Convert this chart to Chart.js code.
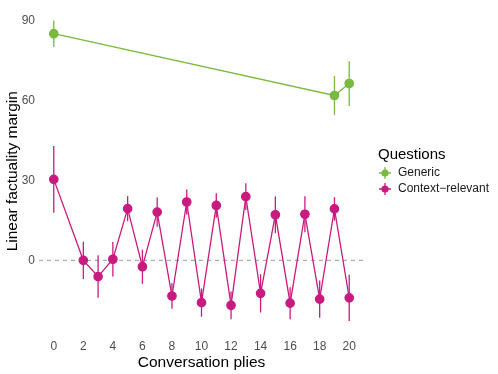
<!DOCTYPE html>
<html>
<head>
<meta charset="utf-8">
<script src="https://cdn.jsdelivr.net/npm/chart.js@4"></script>
<style>
  html, body { margin: 0; padding: 0; background: #fff; }
  #wrap { width: 498px; height: 374px; position: relative; }
</style>
</head>
<body>
<div id="wrap"><canvas id="c"></canvas></div>
<script>
// data
const genericX = [0, 19, 20];
const genericY = [85.1, 61.9, 66.4];
const genericErr = [5, 7.3, 8.4];

const contextX = [0, 2, 3, 4, 5, 6, 7, 8, 9, 10, 11, 12, 13, 14, 15, 16, 17, 18, 19, 20];
const contextY = [30.4, 0, -6.1, 0.4, 19.4, -2.4, 18.1, -13.4, 21.9, -15.9, 20.6, -16.9, 23.9, -12.4, 17.1, -16.1, 17.3, -14.6, 19.3, -14.1];
const contextErr = [12.5, 7, 8, 6.5, 4.7, 6.4, 5.5, 4.8, 4.7, 5.3, 4.6, 5.2, 5, 7.2, 6.9, 6, 6.8, 7, 4.4, 8.7];

const xTicks = [0, 2, 4, 6, 8, 10, 12, 14, 16, 18, 20];
const yTicks = [0, 30, 60, 90];

const green = '#7ab93f';
const magenta = '#c81b7f';
const fontFam = '"Liberation Sans", Arial, sans-serif';

function pts(xs, ys) {
  return xs.map((x, i) => ({ x: x, y: ys[i] }));
}

// zero line + error bars + legend
const extras = {
  id: 'extras',
  beforeDatasetsDraw(chart) {
    const ctx = chart.ctx;
    const xs = chart.scales.x, ys = chart.scales.y;
    const area = chart.chartArea;
    ctx.save();
    ctx.strokeStyle = '#9a9a9a';
    ctx.lineWidth = 1;
    ctx.setLineDash([4, 4]);
    ctx.beginPath();
    const y0 = ys.getPixelForValue(0);
    ctx.moveTo(area.left, y0);
    ctx.lineTo(area.right, y0);
    ctx.stroke();
    ctx.setLineDash([]);

    const bars = [[genericX, genericY, genericErr, green], [contextX, contextY, contextErr, magenta]];
    bars.forEach(function(b) {
      ctx.strokeStyle = b[3];
      ctx.lineWidth = 1.3;
      b[0].forEach(function(x, i) {
        const px = xs.getPixelForValue(x);
        ctx.beginPath();
        ctx.moveTo(px, ys.getPixelForValue(b[1][i] + b[2][i]));
        ctx.lineTo(px, ys.getPixelForValue(b[1][i] - b[2][i]));
        ctx.stroke();
      });
    });
    ctx.restore();
  },
  afterDraw(chart) {
    const ctx = chart.ctx;
    ctx.save();
    ctx.fillStyle = '#000';
    ctx.font = '15px ' + fontFam;
    ctx.textBaseline = 'alphabetic';
    ctx.fillText('Questions', 378, 159);
    const items = [['Generic', green, 173], ['Context\u2212relevant', magenta, 189]];
    ctx.font = '12px ' + fontFam;
    items.forEach(function(it) {
      ctx.strokeStyle = it[1];
      ctx.fillStyle = it[1];
      ctx.lineWidth = 1.3;
      ctx.beginPath();
      ctx.moveTo(385, it[2] - 6);
      ctx.lineTo(385, it[2] + 6);
      ctx.moveTo(379, it[2]);
      ctx.lineTo(391, it[2]);
      ctx.stroke();
      ctx.beginPath();
      ctx.arc(385, it[2], 3.6, 0, Math.PI * 2);
      ctx.fill();
      ctx.fillStyle = '#1a1a1a';
      ctx.textBaseline = 'middle';
      ctx.fillText(it[0], 398, it[2]);
    });
    ctx.restore();
  }
};

new Chart(document.getElementById('c'), {
  type: 'scatter',
  data: {
    datasets: [
      {
        label: 'Generic',
        data: pts(genericX, genericY),
        showLine: true,
        borderColor: green,
        backgroundColor: green,
        borderWidth: 1.3,
        pointRadius: 4.2,
        pointHoverRadius: 4.2
      },
      {
        label: 'Context-relevant',
        data: pts(contextX, contextY),
        showLine: true,
        borderColor: magenta,
        backgroundColor: magenta,
        borderWidth: 1.3,
        pointRadius: 4.2,
        pointHoverRadius: 4.2
      }
    ]
  },
  options: {
    responsive: true,
    maintainAspectRatio: false,
    animation: false,
    layout: { padding: { top: 5, right: 134, left: 0, bottom: 0 } },
    plugins: {
      legend: { display: false },
      tooltip: { enabled: false }
    },
    scales: {
      x: {
        type: 'linear',
        min: -1,
        max: 21,
        afterBuildTicks: function(scale) {
          scale.ticks = xTicks.map(v => ({ value: v }));
        },
        afterFit: function(scale) {
          scale.height = 37;
          scale.paddingLeft = 0;
          scale.paddingRight = 0;
        },
        grid: { display: false, drawTicks: false },
        border: { display: false },
        ticks: {
          color: '#4d4d4d',
          font: { family: fontFam, size: 12 },
          padding: 2
        },
        title: {
          display: true,
          text: 'Conversation plies',
          color: '#000',
          font: { family: fontFam, size: 15.5 },
          padding: { top: 0, bottom: 2 }
        }
      },
      y: {
        type: 'linear',
        min: -28.8,
        max: 95.7,
        afterBuildTicks: function(scale) {
          scale.ticks = yTicks.map(v => ({ value: v }));
        },
        afterFit: function(scale) {
          scale.width = 39;
          scale.paddingTop = 0;
          scale.paddingBottom = 0;
        },
        grid: { display: false, drawTicks: false },
        border: { display: false },
        ticks: {
          color: '#4d4d4d',
          font: { family: fontFam, size: 12 },
          padding: 4
        },
        title: {
          display: true,
          text: 'Linear factuality margin',
          color: '#000',
          font: { family: fontFam, size: 15.5 },
          padding: { top: 3, bottom: 0 }
        }
      }
    }
  },
  plugins: [extras]
});
</script>
</body>
</html>
